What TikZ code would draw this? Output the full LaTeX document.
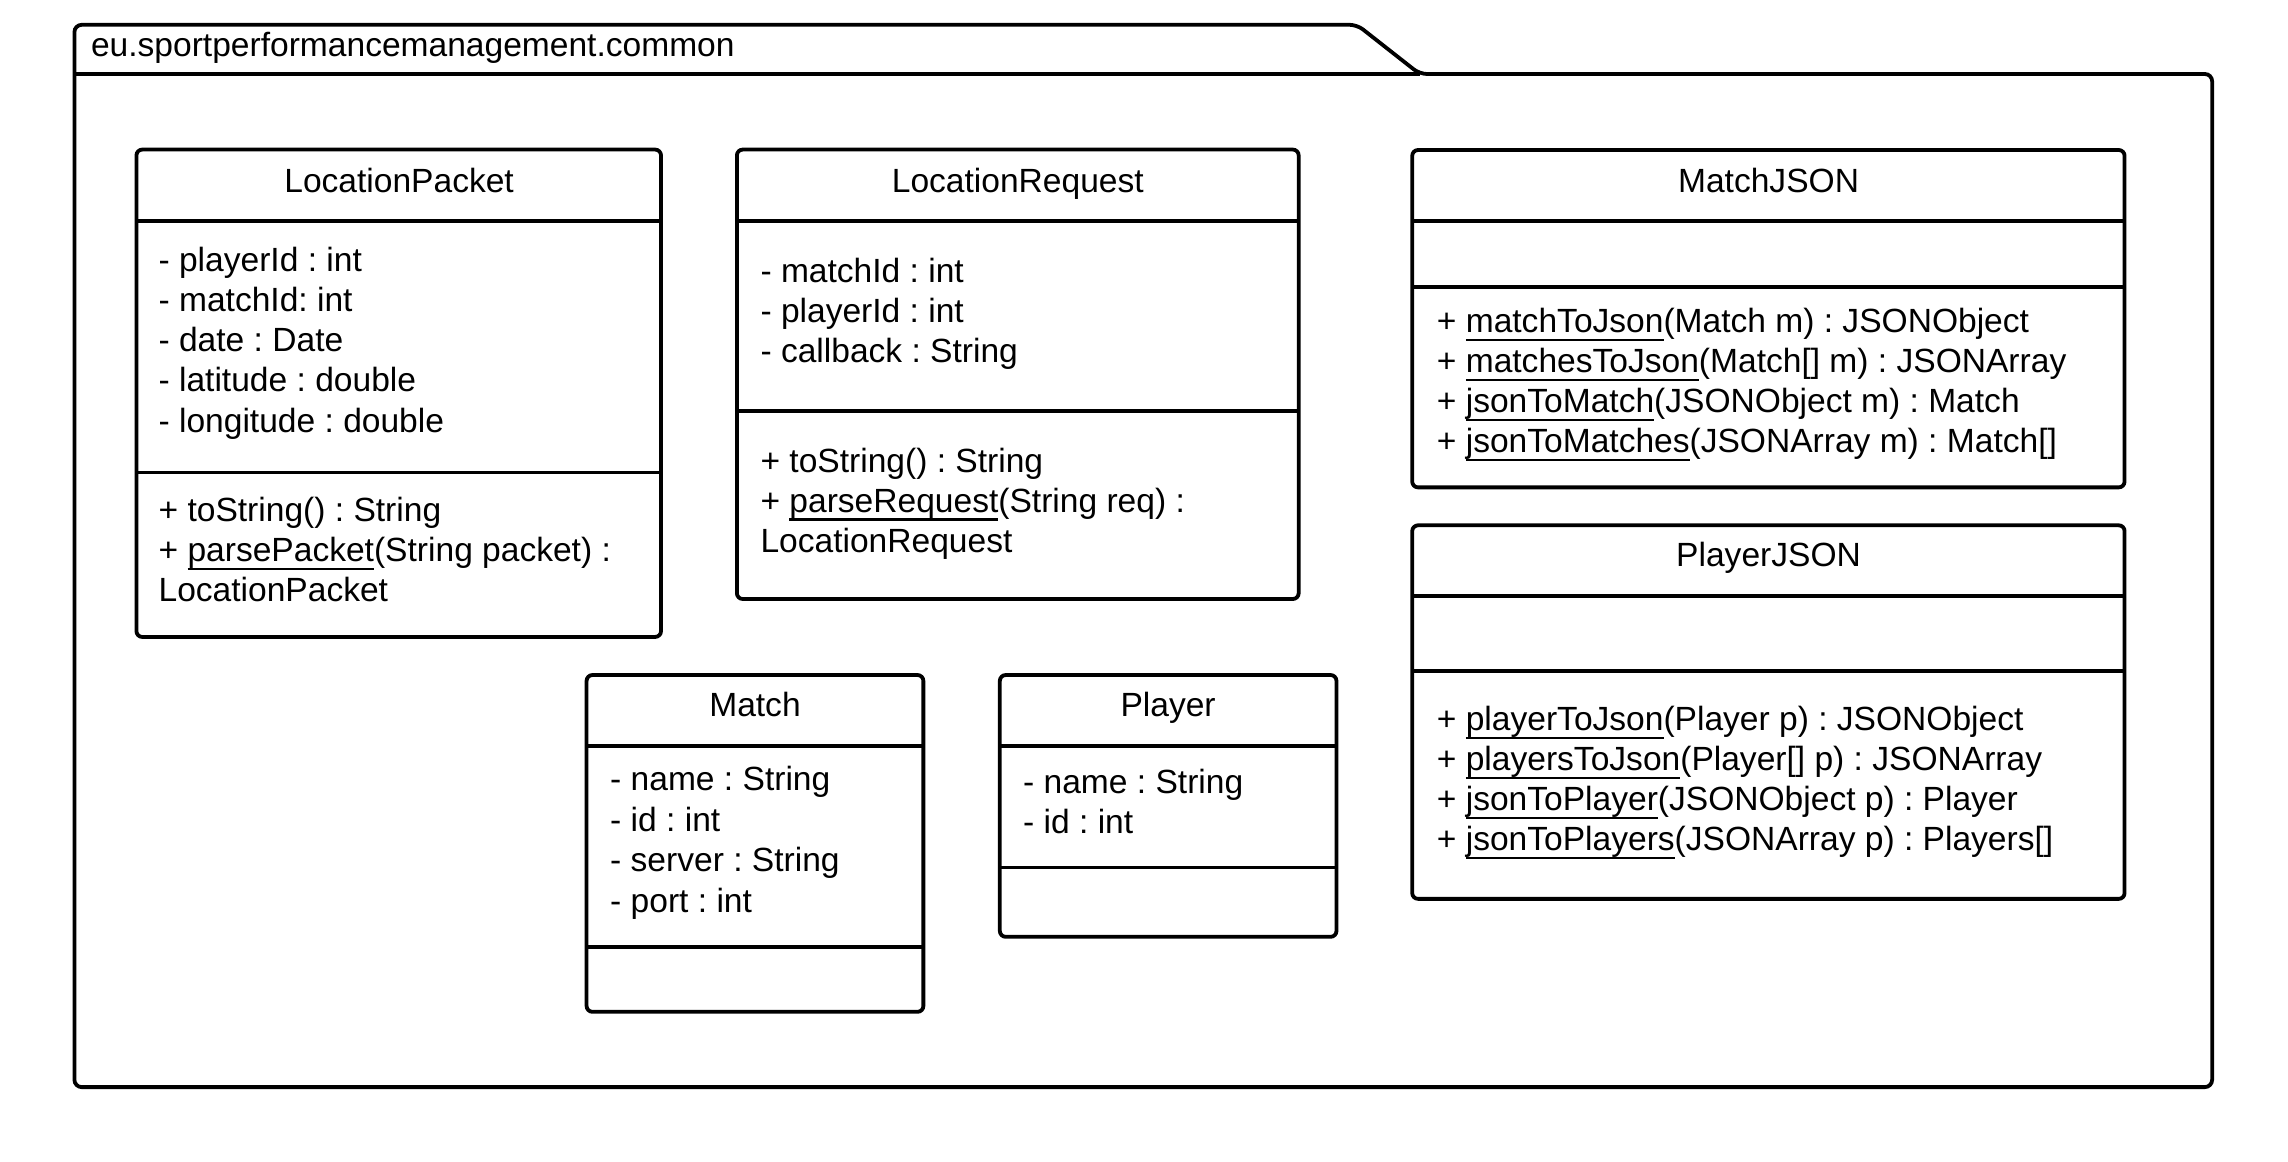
\documentclass[tikz,border=0pt]{standalone}
\usepackage{fontspec}
\setmainfont{Liberation Sans}
\frenchspacing
\newcommand\fs{\fontsize{23.0}{27.4}\selectfont\frenchspacing}
\newcommand\ulx[1]{\setbox0\hbox{#1}\rlap{\rule[-5.8pt]{\wd0}{1.5pt}}\box0}
\tikzset{
  cls/.style={draw, line width=2.6pt, rounded corners=4pt, anchor=north west, inner sep=0pt, outer sep=0pt},
  sep/.style={line width=2.6pt},
  txt/.style={anchor=base west, inner sep=0pt, font=\fs},
  ttl/.style={anchor=base, inner sep=0pt, font=\fs},
  pkg/.style={line width=2.6pt, rounded corners=5pt}
}
\begin{document}
\begin{tikzpicture}[x=1pt,y=-1pt]
\useasboundingbox (0,0) rectangle (1568,796);
% package
\draw[pkg] (51,50.7) -- (51,17) -- (930,17) -- (972.9,50.7) -- (1516,50.7) -- (1516,745) -- (51,745) -- cycle;
\draw[sep] (51,50.7) -- (972.9,50.7);
\node[txt] (pkglabel) at (62.2,38.8) {eu.sportperformancemanagement.common};

% LocationPacket
\node[cls, minimum width=359.5pt, minimum height=334pt] (lp) at (93.5,102.5) {};
\draw[sep] (lp.west |- 0,151.5) -- (lp.east |- 0,151.5);
\draw[sep] (lp.west |- 0,323.8) -- (lp.east |- 0,323.8);
\node[ttl] (lpt) at (273.5,131.8) {LocationPacket};
\node[txt] (lpa1) at (108.5,186.2) {- playerId : int};
\node[txt] (lpa2) at (108.5,213.6) {- matchId: int};
\node[txt] (lpa3) at (108.5,241.0) {- date : Date};
\node[txt] (lpa4) at (108.5,268.5) {- latitude : double};
\node[txt] (lpa5) at (108.5,296.2) {- longitude : double};
\node[txt] (lpm1) at (108.5,357.6) {+ toString() : String};
\node[txt] (lpm2) at (108.5,385.0) {+ \ulx{parsePacket}(String packet) :};
\node[txt] (lpm3) at (108.5,412.4) {LocationPacket};

% LocationRequest
\node[cls, minimum width=385pt, minimum height=308pt] (lr) at (505,102.5) {};
\draw[sep] (lr.west |- 0,151.5) -- (lr.east |- 0,151.5);
\draw[sep] (lr.west |- 0,281.5) -- (lr.east |- 0,281.5);
\node[ttl] (lrt) at (697.5,131.8) {LocationRequest};
\node[txt] (lra1) at (521,193.5) {- matchId : int};
\node[txt] (lra2) at (521,220.9) {- playerId : int};
\node[txt] (lra3) at (521,248.3) {- callback : String};
\node[txt] (lrm1) at (521,323.5) {+ toString() : String};
\node[txt] (lrm2) at (521,350.9) {+ \ulx{parseRequest}(String req) :};
\node[txt] (lrm3) at (521,378.3) {LocationRequest};

% MatchJSON
\node[cls, minimum width=488.2pt, minimum height=231.2pt] (mj) at (967.8,102.8) {};
\draw[sep] (mj.west |- 0,151.5) -- (mj.east |- 0,151.5);
\draw[sep] (mj.west |- 0,196.7) -- (mj.east |- 0,196.7);
\node[ttl] (mjt) at (1212,131.8) {MatchJSON};
\node[txt] (mjm1) at (984.5,228.0) {+ \ulx{matchToJson}(Match m) : JSONObject};
\node[txt] (mjm2) at (984.5,255.4) {+ \ulx{matchesToJson}(Match[] m) : JSONArray};
\node[txt] (mjm3) at (984.5,282.8) {+ \ulx{jsonToMatch}(JSONObject m) : Match};
\node[txt] (mjm4) at (984.5,310.2) {+ \ulx{jsonToMatches}(JSONArray m) : Match[]};

% PlayerJSON
\node[cls, minimum width=488.2pt, minimum height=256pt] (pj) at (967.8,360) {};
\draw[sep] (pj.west |- 0,408.5) -- (pj.east |- 0,408.5);
\draw[sep] (pj.west |- 0,460) -- (pj.east |- 0,460);
\node[ttl] (pjt) at (1212,388.5) {PlayerJSON};
\node[txt] (pjm1) at (984.5,500.5) {+ \ulx{playerToJson}(Player p) : JSONObject};
\node[txt] (pjm2) at (984.5,527.9) {+ \ulx{playersToJson}(Player[] p) : JSONArray};
\node[txt] (pjm3) at (984.5,555.3) {+ \ulx{jsonToPlayer}(JSONObject p) : Player};
\node[txt] (pjm4) at (984.5,582.7) {+ \ulx{jsonToPlayers}(JSONArray p) : Players[]};

% Match
\node[cls, minimum width=230.8pt, minimum height=230.8pt] (ma) at (402,462.6) {};
\draw[sep] (ma.west |- 0,511.3) -- (ma.east |- 0,511.3);
\draw[sep] (ma.west |- 0,648.8) -- (ma.east |- 0,648.8);
\node[ttl] (mat) at (517.4,491.2) {Match};
\node[txt] (maa1) at (418,542.0) {- name : String};
\node[txt] (maa2) at (418,569.6) {- id : int};
\node[txt] (maa3) at (418,597.4) {- server : String};
\node[txt] (maa4) at (418,625.0) {- port : int};

% Player
\node[cls, minimum width=230.7pt, minimum height=179.4pt] (pl) at (685.2,462.6) {};
\draw[sep] (pl.west |- 0,511.3) -- (pl.east |- 0,511.3);
\draw[sep] (pl.west |- 0,594.5) -- (pl.east |- 0,594.5);
\node[ttl] (plt) at (800.5,491.2) {Player};
\node[txt] (pla1) at (701,543.7) {- name : String};
\node[txt] (pla2) at (701,571.1) {- id : int};
\end{tikzpicture}
\end{document}
